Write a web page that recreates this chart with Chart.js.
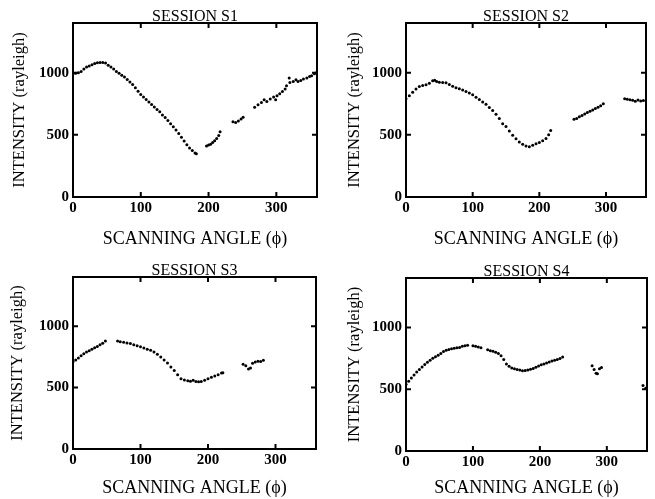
<!DOCTYPE html>
<html>
<head>
<meta charset="utf-8">
<script src="https://cdn.jsdelivr.net/npm/chart.js@4/dist/chart.umd.min.js"></script>
<style>
  html, body { margin: 0; padding: 0; background: #fff; }
  #wrap { position: relative; width: 655px; height: 499px; }
  canvas { position: absolute; }
</style>
</head>
<body>
<div id="wrap">
  <canvas id="c1" style="left:0;top:0" width="330" height="250"></canvas>
  <canvas id="c2" style="left:330px;top:0" width="325" height="250"></canvas>
  <canvas id="c3" style="left:0;top:250px" width="330" height="249"></canvas>
  <canvas id="c4" style="left:330px;top:250px" width="325" height="249"></canvas>
</div>
<script>
// Shared axis ticks
const xTickValues = [0, 100, 200, 300];
const yTickValues = [0, 500, 1000];

// Session S1: scanning angle (deg) and intensity (rayleigh)
const s1Angle = [0,4,8,12,16,20,24,28,32,36,40,44,48,52,56,60,64,68,72,76,80,84,88,92,96,100,104,108,112,116,120,124,128,132,136,140,144,148,152,156,160,164,168,172,176,180,182,
  197,200,203,206,209,212,215,217,
  236,240,244,248,251,
  268,273,278,282,286,291,296,299,301,305,309,313,315,319,320,325,329,332,336,340,345,349,352,356,358];
const s1Value = [990,995,1000,1010,1030,1045,1055,1065,1075,1080,1082,1083,1078,1060,1045,1030,1010,995,980,965,945,925,905,880,850,825,805,785,765,745,725,705,685,660,640,615,590,565,540,510,480,450,420,395,375,355,348,
  410,418,425,438,452,470,495,525,
  605,600,612,628,642,
  723,742,761,782,769,788,804,782,815,831,849,868,895,957,922,930,944,930,938,949,957,970,976,992,997];

// Session S2
const s2Angle = [0,5,10,15,20,25,30,35,40,43,46,50,55,60,65,70,75,80,85,90,95,100,105,110,115,120,125,130,135,140,145,150,155,160,165,170,175,180,185,190,195,200,205,210,214,217,
  252,256,260,264,268,272,276,280,284,288,292,296,
  328,332,336,340,344,348,352,356,360];
const s2Value = [790,815,843,868,890,898,903,915,935,940,930,924,922,919,905,892,880,870,860,849,836,822,803,784,765,746,720,695,665,632,590,568,532,497,468,443,425,411,405,416,428,438,452,470,500,535,
  626,632,645,655,668,680,690,700,712,722,735,750,
  790,786,782,778,770,780,772,776,775];

// Session S3
const s3Angle = [0,4,8,12,16,20,24,28,32,36,40,44,48,
  66,70,75,80,85,90,95,100,105,110,115,120,125,130,135,140,145,150,155,160,165,170,174,178,182,186,190,195,200,205,210,215,220,222,
  252,256,260,263,266,270,274,278,282];
const s3Value = [710,725,740,760,775,790,800,812,825,835,848,860,880,
  880,872,868,862,858,848,840,832,822,812,803,790,772,748,725,700,668,638,605,572,562,555,552,560,550,548,550,560,572,583,595,605,618,620,
  690,678,652,660,698,708,715,712,722];

// Session S4
const s4Angle = [0,4,8,12,16,20,24,28,32,36,40,44,48,52,56,60,64,68,72,76,80,84,88,92,100,104,108,112,
  122,126,130,134,138,142,146,150,154,158,162,166,170,174,178,182,186,190,194,198,202,206,210,214,218,222,226,230,234,
  278,281,284,286,289,292,
  354,358];
const s4Value = [540,565,590,615,640,660,680,700,718,735,750,762,775,790,805,815,822,828,832,835,838,848,852,855,852,848,842,835,
  820,812,808,800,790,770,740,705,685,672,665,660,655,650,652,655,662,668,678,688,698,705,712,720,728,735,740,748,760,
  690,660,630,625,665,676,
  530,508];

const sessions = [
  { id: 'c1', title: 'SESSION S1', angle: s1Angle, value: s1Value, pad: { top: 23, right: 13 }, yw: 73, xh: 53, yTitlePad: 10 },
  { id: 'c2', title: 'SESSION S2', angle: s2Angle, value: s2Value, pad: { top: 23, right: 9 }, yw: 76, xh: 53, yTitlePad: 15 },
  { id: 'c3', title: 'SESSION S3', angle: s3Angle, value: s3Value, pad: { top: 27, right: 14 }, yw: 73, xh: 50, yTitlePad: 8 },
  { id: 'c4', title: 'SESSION S4', angle: s4Angle, value: s4Value, pad: { top: 28, right: 8 }, yw: 76, xh: 48, yTitlePad: 15 }
];

const SERIF = "'Liberation Serif', 'Times New Roman', serif";

// Closed frame with inward tick marks, plus the session heading above it
const framePlugin = {
  id: 'frame',
  afterDraw(chart, args, opts) {
    const { ctx, chartArea: a, scales: { x, y } } = chart;
    ctx.save();
    ctx.strokeStyle = '#000';
    ctx.lineWidth = 2;
    ctx.strokeRect(a.left, a.top, a.right - a.left, a.bottom - a.top);
    ctx.beginPath();
    x.ticks.forEach(t => {
      if (t.value === 0) return;
      const px = x.getPixelForValue(t.value);
      ctx.moveTo(px, a.bottom); ctx.lineTo(px, a.bottom - 5);
      ctx.moveTo(px, a.top); ctx.lineTo(px, a.top + 5);
    });
    y.ticks.forEach(t => {
      if (t.value === 0) return;
      const py = y.getPixelForValue(t.value);
      ctx.moveTo(a.left, py); ctx.lineTo(a.left + 5, py);
      ctx.moveTo(a.right, py); ctx.lineTo(a.right - 5, py);
    });
    ctx.stroke();
    ctx.fillStyle = '#000';
    ctx.font = '16px ' + SERIF;
    ctx.textAlign = 'center';
    ctx.textBaseline = 'alphabetic';
    ctx.fillText(opts.text, (a.left + a.right) / 2, a.top - 2);
    ctx.restore();
  }
};

sessions.forEach(s => {
  new Chart(document.getElementById(s.id), {
    type: 'scatter',
    data: {
      datasets: [{
        data: s.angle.map((a, i) => ({ x: a, y: s.value[i] })),
        backgroundColor: '#000',
        borderColor: '#000',
        pointRadius: 1.5,
        pointBorderWidth: 0,
        showLine: false
      }]
    },
    options: {
      responsive: false,
      animation: false,
      events: [],
      layout: { padding: { top: s.pad.top, right: s.pad.right, left: 0, bottom: 0 } },
      plugins: {
        legend: { display: false },
        tooltip: { enabled: false },
        frame: { text: s.title }
      },
      scales: {
        x: {
          type: 'linear',
          min: 0, max: 360,
          afterBuildTicks: sc => { sc.ticks = xTickValues.map(v => ({ value: v })); },
          afterFit: sc => { sc.height = s.xh; },
          grid: { display: false, drawTicks: false },
          border: { display: false },
          ticks: { padding: 2, color: '#000', font: { family: SERIF, size: 15, weight: 'bold' }, maxRotation: 0, callback: v => String(v) },
          title: { display: true, text: 'SCANNING ANGLE (\u03D5)', color: '#000', font: { family: SERIF, size: 18 }, padding: { top: 0, bottom: 0 } }
        },
        y: {
          type: 'linear',
          min: 0, max: 1400,
          afterBuildTicks: sc => { sc.ticks = yTickValues.map(v => ({ value: v })); },
          afterFit: sc => { sc.width = s.yw; },
          grid: { display: false, drawTicks: false },
          border: { display: false },
          ticks: { padding: 4, color: '#000', font: { family: SERIF, size: 15, weight: 'bold' }, callback: v => String(v) },
          title: { display: true, text: 'INTENSITY (rayleigh)', color: '#000', font: { family: SERIF, size: 16.5 }, padding: { top: s.yTitlePad, bottom: 0 } }
        }
      }
    },
    plugins: [framePlugin]
  });
});
</script>
</body>
</html>
